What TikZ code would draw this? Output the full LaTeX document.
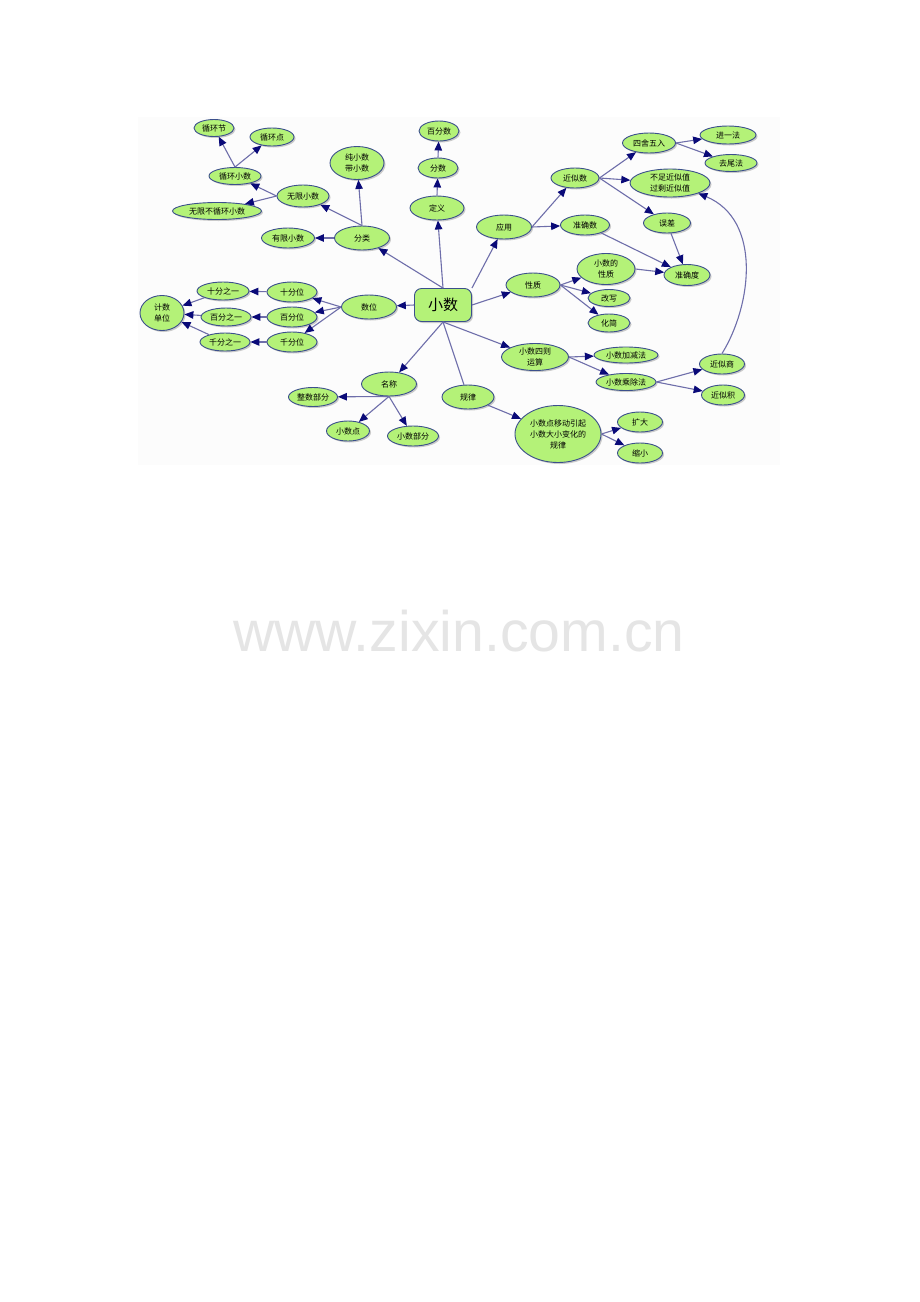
\documentclass[tikz,border=0pt]{standalone}
\usepackage{fontspec}
\newfontfamily\cjk{Noto Sans CJK SC}
\newfontfamily\wmfont{Liberation Sans}
\usetikzlibrary{shapes.geometric,arrows.meta,shadows}
\definecolor{nodefill}{RGB}{180,242,120}
\definecolor{nodeline}{RGB}{60,80,140}
\definecolor{edgecol}{RGB}{110,110,170}
\definecolor{tipcol}{RGB}{10,10,120}
\begin{document}
\begin{tikzpicture}[x=1pt,y=-1pt,
  el/.style={ellipse, draw=nodeline, fill=nodefill, line width=0.9pt, inner sep=0pt,
    font=\cjk\fontsize{8}{11}\selectfont, align=center,
    drop shadow={shadow xshift=1.5pt, shadow yshift=-1.5pt, fill=black!40}},
  ar/.style={draw=edgecol, line width=1.1pt, -{Triangle[length=9pt,width=7.5pt,color=tipcol]}},
  pl/.style={draw=edgecol, line width=1.1pt}]
\fill[white] (0,0) rectangle (920,1302);
\useasboundingbox (0,0) rectangle (920,1302);
\fill[black!1] (138,117) rectangle (780,465);
\node[anchor=base west, font=\wmfont\fontsize{57.2}{60}\selectfont, text=black!10, inner sep=0pt] (wm) at (233,651) {www.zixin.com.cn};
% centre
\node[draw=nodeline, fill=nodefill, line width=0.9pt, rounded corners=7pt, minimum width=57pt, minimum height=33pt, inner sep=0pt,
  font=\cjk\fontsize{15}{17}\selectfont, drop shadow={shadow xshift=1.5pt, shadow yshift=-1.5pt, fill=black!40}] (xs) at (443,305) {小数};
% left top
\node[el, minimum width=55pt, minimum height=24pt] (fl) at (362,238) {分类};
\node[el, minimum width=53pt, minimum height=20pt] (yx) at (288,238) {有限小数};
\node[el, minimum width=52pt, minimum height=22pt] (wx) at (303,196) {无限小数};
\node[el, minimum width=54pt, minimum height=33pt] (cs) at (357,163) {纯小数\\带小数};
\node[el, minimum width=52pt, minimum height=17pt] (xh) at (235,176) {循环小数};
\node[el, minimum width=89pt, minimum height=17pt] (wb) at (217,211) {无限不循环小数};
\node[el, minimum width=40pt, minimum height=17pt] (xj) at (214,128) {循环节};
\node[el, minimum width=44pt, minimum height=18pt] (xd) at (272,137) {循环点};
% top
\node[el, minimum width=54pt, minimum height=24pt] (dy) at (437,208) {定义};
\node[el, minimum width=40pt, minimum height=20pt] (fs) at (438,168) {分数};
\node[el, minimum width=40pt, minimum height=20pt] (bf) at (439,131) {百分数};
% right top
\node[el, minimum width=55pt, minimum height=24pt] (yy) at (504,227) {应用};
\node[el, minimum width=48pt, minimum height=20pt] (js) at (575,178) {近似数};
\node[el, minimum width=53pt, minimum height=20pt] (ss) at (649,143) {四舍五入};
\node[el, minimum width=56pt, minimum height=18pt] (jy) at (728,135) {进一法};
\node[el, minimum width=52pt, minimum height=17pt] (qw) at (731,163) {去尾法};
\node[el, minimum width=80pt, minimum height=28pt] (bz) at (670,183) {不足近似值\\过剩近似值};
\node[el, minimum width=47pt, minimum height=20pt] (wc) at (667,223) {误差};
\node[el, minimum width=49pt, minimum height=20pt] (zs) at (585,225) {准确数};
\node[el, minimum width=46pt, minimum height=21pt] (zd) at (687,275) {准确度};
% right middle
\node[el, minimum width=54pt, minimum height=24pt] (xz) at (533,285) {性质};
\node[el, minimum width=58pt, minimum height=31pt] (xx) at (606,269) {小数的\\性质};
\node[el, minimum width=42pt, minimum height=17pt] (gx) at (609,298) {改写};
\node[el, minimum width=42pt, minimum height=18pt] (hj) at (609,323) {化简};
% left middle
\node[el, minimum width=55pt, minimum height=24pt] (sw) at (369,307) {数位};
\node[el, minimum width=50pt, minimum height=20pt] (sf) at (292,292) {十分位};
\node[el, minimum width=50pt, minimum height=20pt] (bw) at (292,317) {百分位};
\node[el, minimum width=50pt, minimum height=20pt] (qf) at (292,342) {千分位};
\node[el, minimum width=52pt, minimum height=18pt] (s1) at (223,291) {十分之一};
\node[el, minimum width=50pt, minimum height=18pt] (b1) at (226,317) {百分之一};
\node[el, minimum width=50pt, minimum height=18pt] (q1) at (225,342) {千分之一};
\node[el, minimum width=44pt, minimum height=35pt] (jd) at (162,313) {计数\\单位};
% bottom
\node[el, minimum width=55pt, minimum height=24pt] (mc) at (389,384) {名称};
\node[el, minimum width=49pt, minimum height=19pt] (zb) at (313,397) {整数部分};
\node[el, minimum width=43pt, minimum height=20pt] (xdd) at (348,431) {小数点};
\node[el, minimum width=51pt, minimum height=20pt] (xb) at (413,436) {小数部分};
\node[el, minimum width=52pt, minimum height=24pt] (gl) at (468,397) {规律};
\node[el, minimum width=67pt, minimum height=27pt] (sz) at (535,357) {小数四则\\运算};
\node[el, minimum width=64pt, minimum height=16pt] (jj) at (626,355) {小数加减法};
\node[el, minimum width=60pt, minimum height=17pt] (cc) at (626,382) {小数乘除法};
\node[el, minimum width=45pt, minimum height=20pt] (jss) at (722,364) {近似商};
\node[el, minimum width=43pt, minimum height=20pt] (jjj) at (723,395) {近似积};
\node[el, minimum width=86pt, minimum height=57pt] (yd) at (558,434) {小数点移动引起\\小数大小变化的\\规律};
\node[el, minimum width=45pt, minimum height=20pt] (kd) at (640,422) {扩大};
\node[el, minimum width=45pt, minimum height=20pt] (sx) at (640,453) {缩小};
% edges from centre
\draw[ar] (xs.north) -- (fl);
\draw[ar] (xs.north) -- (dy);
\draw[ar] (xs.north east) -- (yy);
\draw[ar] (xs.east) -- (xz);
\draw[ar] (xs.west) -- (sw);
\draw[ar] (xs.south) -- (mc);
\draw[pl] (xs.south) -- (gl);
\draw[ar] (xs.south) -- (sz);
% classification
\draw[ar] (fl.west) -- (yx);
\draw[ar] (fl.north) -- (wx);
\draw[ar] (fl.north) -- (cs);
\draw[ar] (wx.west) -- (xh);
\draw[ar] (wx.west) -- (wb);
\draw[ar] (xh.north) -- (xj);
\draw[ar] (xh.north) -- (xd);
% definition
\draw[ar] (dy.north) -- (fs);
\draw[ar] (fs.north) -- (bf);
% application
\draw[ar] (yy.east) -- (js);
\draw[ar] (yy.east) -- (zs);
\draw[ar] (js.east) -- (ss);
\draw[ar] (js.east) -- (bz);
\draw[ar] (js.east) -- (wc);
\draw[ar] (ss.east) -- (jy);
\draw[ar] (ss.east) -- (qw);
\draw[ar] (zs) -- (zd);
\draw[ar] (wc) -- (zd);
\draw[ar] (xx.east) -- (zd);
% properties
\draw[ar] (xz.east) -- (xx);
\draw[ar] (xz.east) -- (gx);
\draw[ar] (xz.east) -- (hj);
% places
\draw[ar] (sw.west) -- (sf);
\draw[ar] (sw.west) -- (bw);
\draw[ar] (sw.west) -- (qf);
\draw[ar] (sf) -- (s1);
\draw[ar] (bw) -- (b1);
\draw[ar] (qf) -- (q1);
\draw[ar] (s1) -- (jd);
\draw[ar] (b1) -- (jd);
\draw[ar] (q1) -- (jd);
% names
\draw[ar] (mc.south) -- (zb);
\draw[ar] (mc.south) -- (xdd);
\draw[ar] (mc.south) -- (xb);
% operations
\draw[ar] (sz.east) -- (jj);
\draw[ar] (sz.east) -- (cc);
\draw[ar] (cc.east) -- (jss);
\draw[ar] (cc.east) -- (jjj);
\draw[ar] (jss.north) .. controls (752,305) and (762,220) .. (bz.-20);
% rule
\draw[ar] (gl) -- (yd);
\draw[ar] (yd.east) -- (kd);
\draw[ar] (yd.east) -- (sx);
\end{tikzpicture}
\end{document}
